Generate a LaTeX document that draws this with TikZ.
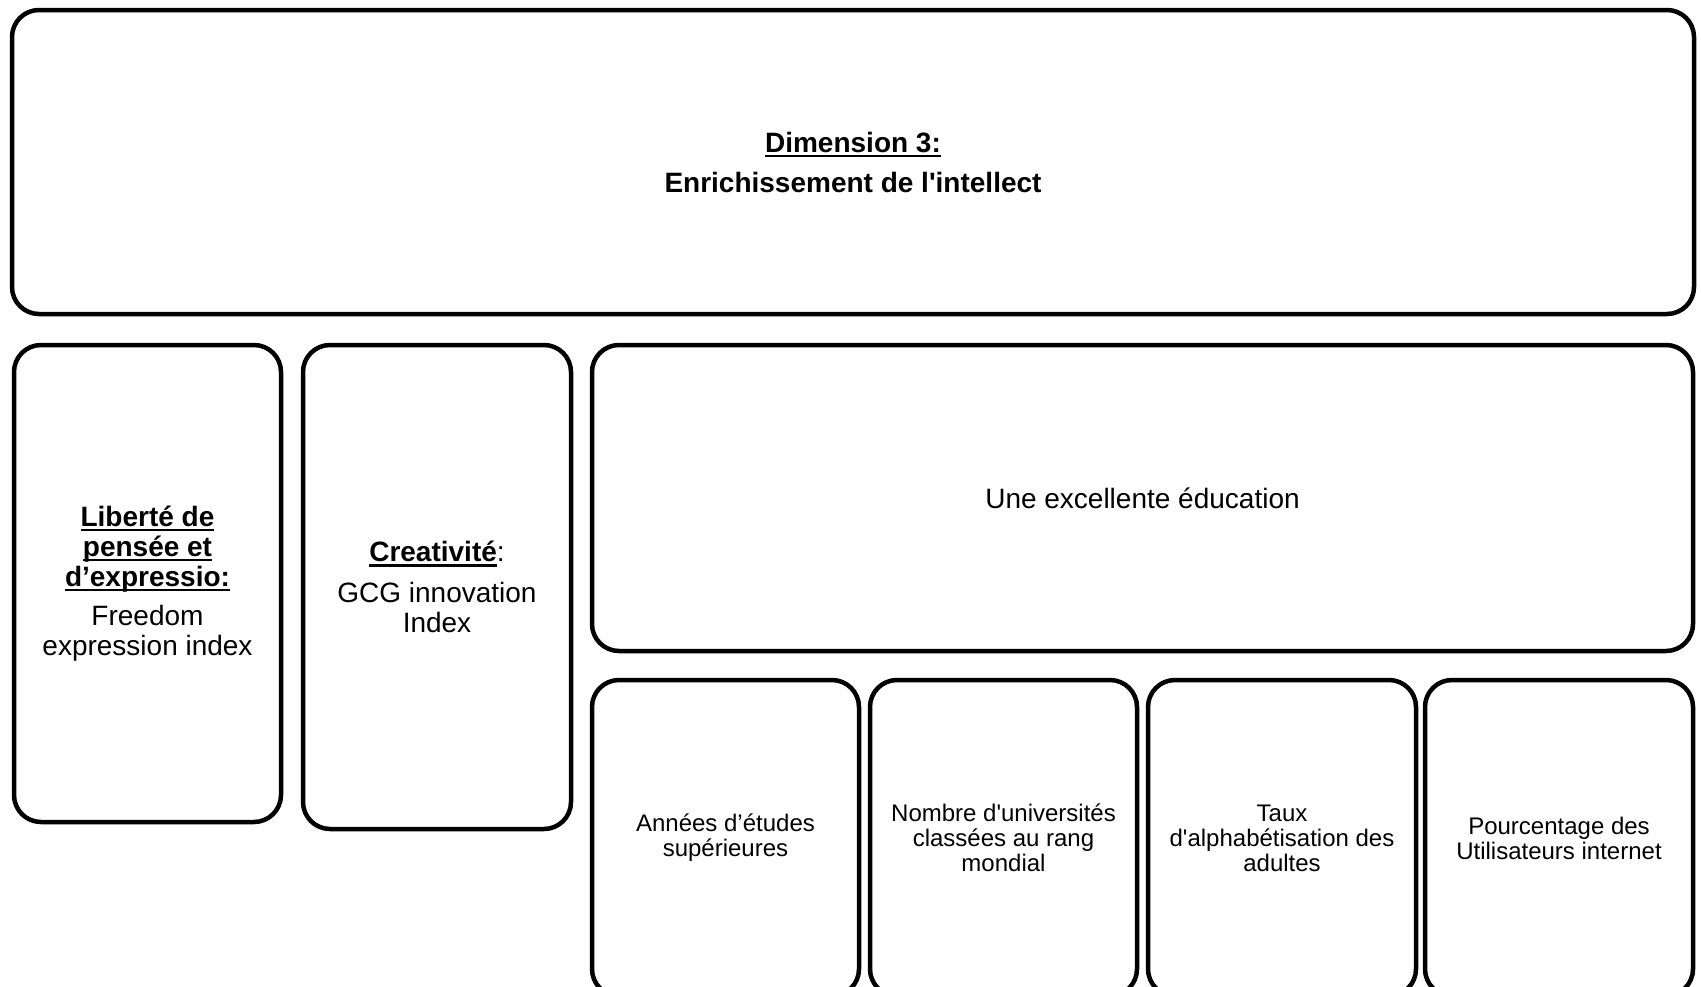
\documentclass[tikz,border=0pt]{standalone}
\usepackage{fontspec}
\setmainfont{Liberation Sans}[Ligatures=TeXOff]
\usepackage{tikz}

\newsavebox\soulbox
\newcommand{\souligne}[1]{\sbox\soulbox{#1}\rlap{\rule[-5pt]{\wd\soulbox}{2.3pt}}\usebox\soulbox}

\tikzset{
  cadre/.style={draw,line width=4.5pt,rounded corners=27pt,inner sep=0pt,
    align=center,font=\fontsize{28}{30}\selectfont},
  petit/.style={cadre,font=\fontsize{24}{25}\selectfont}
}

\begin{document}
\begin{tikzpicture}[x=1pt,y=-1pt]
\useasboundingbox (0,0) rectangle (1701,986);
\node[cadre,minimum width=1682,minimum height=304] (dim) at (853,162)
  {\souligne{\textbf{Dimension 3:}}\\[10pt]\textbf{Enrichissement de l'intellect}};
\node[cadre,minimum width=267,minimum height=477] (lib) at (147.5,583.5)
  {\souligne{\textbf{Liberté de}}\\\souligne{\textbf{pensée et}}\\
   \souligne{\textbf{d’expressio:}}\\[9pt]Freedom\\expression index};
\node[cadre,minimum width=268,minimum height=484] (crea) at (437,587)
  {\souligne{\textbf{Creativité}}:\\[11pt]GCG innovation\\Index};
\node[cadre,minimum width=1101,minimum height=306] (edu) at (1142.5,498)
  {Une excellente éducation};
\node[petit,minimum width=267,minimum height=316] (etud) at (725.5,838)
  {Années d’études\\supérieures};
\node[petit,minimum width=267,minimum height=316] (univ) at (1003.5,838)
  {Nombre d'universités\\classées au rang\\mondial};
\node[petit,minimum width=268,minimum height=316] (alpha) at (1282,838)
  {Taux\\d'alphabétisation des\\adultes};
\node[petit,minimum width=268,minimum height=316] (web) at (1559,838)
  {Pourcentage des\\Utilisateurs internet};
\end{tikzpicture}
\end{document}
